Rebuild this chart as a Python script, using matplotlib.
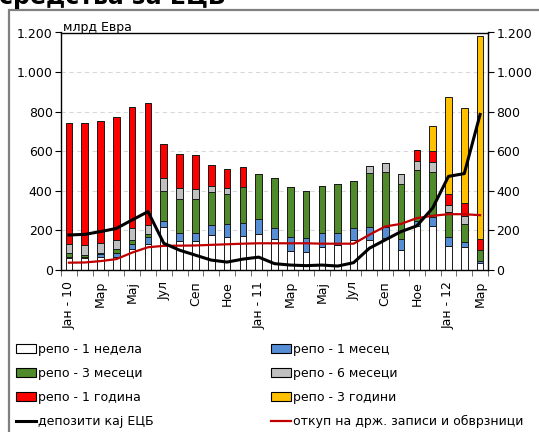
import matplotlib
matplotlib.use('Agg')
import matplotlib.pyplot as plt
import numpy as np
from matplotlib.patches import Patch, Rectangle
from matplotlib.lines import Line2D
from matplotlib.ticker import FuncFormatter

plt.rcParams['font.family'] = ['DejaVu Sans']

# месеци: јан 2010 - мар 2012
months = ['Јан - 10', 'Фев', 'Мар', 'Апр', 'Мај', 'Јун', 'Јул', 'Авг', 'Сеп', 'Окт', 'Ное', 'Дек',
          'Јан - 11', 'Фев', 'Мар', 'Апр', 'Мај', 'Јун', 'Јул', 'Авг', 'Сеп', 'Окт', 'Ное', 'Дек',
          'Јан - 12', 'Фев', 'Мар']

# млрд евра
repo_1w = [59, 59, 67, 67, 108, 131, 219, 147, 148, 177, 169, 174,
           184, 155, 98, 91, 115, 125, 152, 152, 163, 100, 220, 223, 122, 114, 34]
repo_1m = [8, 5, 13, 17, 24, 34, 30, 39, 37, 49, 61, 62,
           73, 56, 71, 73, 74, 64, 59, 67, 56, 56, 28, 45, 43, 26, 13]
repo_3m = [20, 13, 7, 20, 20, 17, 152, 172, 172, 170, 152, 182,
           228, 253, 251, 236, 233, 245, 241, 271, 276, 279, 257, 225, 126, 90, 54]
repo_6m = [44, 50, 50, 50, 59, 45, 62, 56, 51, 30, 32, 0,
           0, 0, 0, 0, 0, 0, 0, 33, 48, 48, 44, 54, 38, 45, 0]
repo_1y = [613, 617, 617, 617, 614, 618, 173, 173, 172, 103, 96, 101,
           0, 0, 0, 0, 0, 0, 0, 0, 0, 0, 58, 55, 55, 62, 58]
repo_3y = [0, 0, 0, 0, 0, 0, 0, 0, 0, 0, 0, 0,
           0, 0, 0, 0, 0, 0, 0, 0, 0, 0, 0, 125, 489, 484, 1025]

deposits_ecb = [177, 180, 194, 210, 253, 295, 135, 100, 75, 50, 40, 55,
                65, 32, 25, 22, 25, 20, 37, 110, 152, 194, 223, 313, 473, 487, 786]
purchases = [37, 38, 45, 55, 88, 115, 122, 123, 124, 127, 130, 133,
             135, 135, 135, 135, 133, 133, 133, 178, 220, 233, 262, 274, 282, 282, 277]

series = [
    (repo_1w, 'white', 'репо - 1 недела'),
    (repo_1m, '#558ed5', 'репо - 1 месец'),
    (repo_3m, '#4f8a2b', 'репо - 3 месеци'),
    (repo_6m, '#c0c0c0', 'репо - 6 месеци'),
    (repo_1y, '#ff0000', 'репо - 1 година'),
    (repo_3y, '#ffc000', 'репо - 3 години'),
]

fig = plt.figure(figsize=(5.39, 4.32), dpi=100)
ax = fig.add_axes([61/539, 1 - 270/432, (488 - 61)/539, (270 - 32.5)/432])

x = np.arange(len(months))
bottom = np.zeros(len(months))
for vals, col, lab in series:
    v = np.array(vals, dtype=float)
    ax.bar(x, v, 0.42, bottom=bottom, color=col, edgecolor='#1a1a1a', linewidth=0.7, zorder=2)
    bottom += v

ax.plot(x, deposits_ecb, color='black', lw=2.2, zorder=4)
ax.plot(x, purchases, color='#c00000', lw=1.6, zorder=3)

ax.set_xlim(-0.5, len(months) - 0.5)
ax.set_ylim(0, 1200)
ax.set_yticks(range(0, 1201, 200))
ax.yaxis.set_major_formatter(FuncFormatter(lambda v, p: f'{int(v):,}'.replace(',', '.')))
ax.tick_params(axis='y', which='major', left=True, right=True, labelleft=True, labelright=True,
               direction='out', length=4, labelsize=9, pad=2)

ax.set_xticks(x[::2])
ax.set_xticklabels(months[::2], rotation=90, fontsize=9)
ax.set_xticks(np.arange(-0.5, len(months), 1), minor=True)
ax.tick_params(axis='x', which='major', length=0, pad=8)
ax.tick_params(axis='x', which='minor', length=4, direction='out', color='#555555')

ax.yaxis.grid(True, ls=(0, (4, 3)), color='#d9d9d9', lw=0.8)
ax.set_axisbelow(True)
for s in ax.spines.values():
    s.set_color('black')
    s.set_linewidth(1)

fig.text(63/539, 1 - 31/432, 'млрд Евра', fontsize=9, va='baseline')
# насловот е пресечен на горниот раб, како во оригиналот
fig.text(-0.002, 1 - 4/432, 'средства за ЕЦБ', fontsize=17, fontweight='bold', va='baseline')

# рамка околу графиконот
fig.patches.append(Rectangle((9/539, -0.1), 1.0, 1.1 - 10/432, transform=fig.transFigure,
                             fill=False, edgecolor='#808080', lw=1.6))

h = {lab: Patch(facecolor=col, edgecolor='black', lw=0.8) for vals, col, lab in series}
left_h = [h['репо - 1 недела'], h['репо - 3 месеци'], h['репо - 1 година'],
          Line2D([], [], color='black', lw=2.2)]
left_l = ['репо - 1 недела', 'репо - 3 месеци', 'репо - 1 година', 'депозити кај ЕЦБ']
right_h = [h['репо - 1 месец'], h['репо - 6 месеци'], h['репо - 3 години'],
           Line2D([], [], color='#c00000', lw=1.6)]
right_l = ['репо - 1 месец', 'репо - 6 месеци', 'репо - 3 години',
           'откуп на држ. записи и обврзници']

kw = dict(frameon=False, fontsize=9, handlelength=1.6, handletextpad=0.15,
          labelspacing=0.88, borderpad=0, borderaxespad=0, loc='upper left')
fig.legend(left_h, left_l, bbox_to_anchor=(16/539, 1 - 343/432), **kw)
fig.legend(right_h, right_l, bbox_to_anchor=(271/539, 1 - 343/432), **kw)

fig.savefig('out.png', dpi=100)
